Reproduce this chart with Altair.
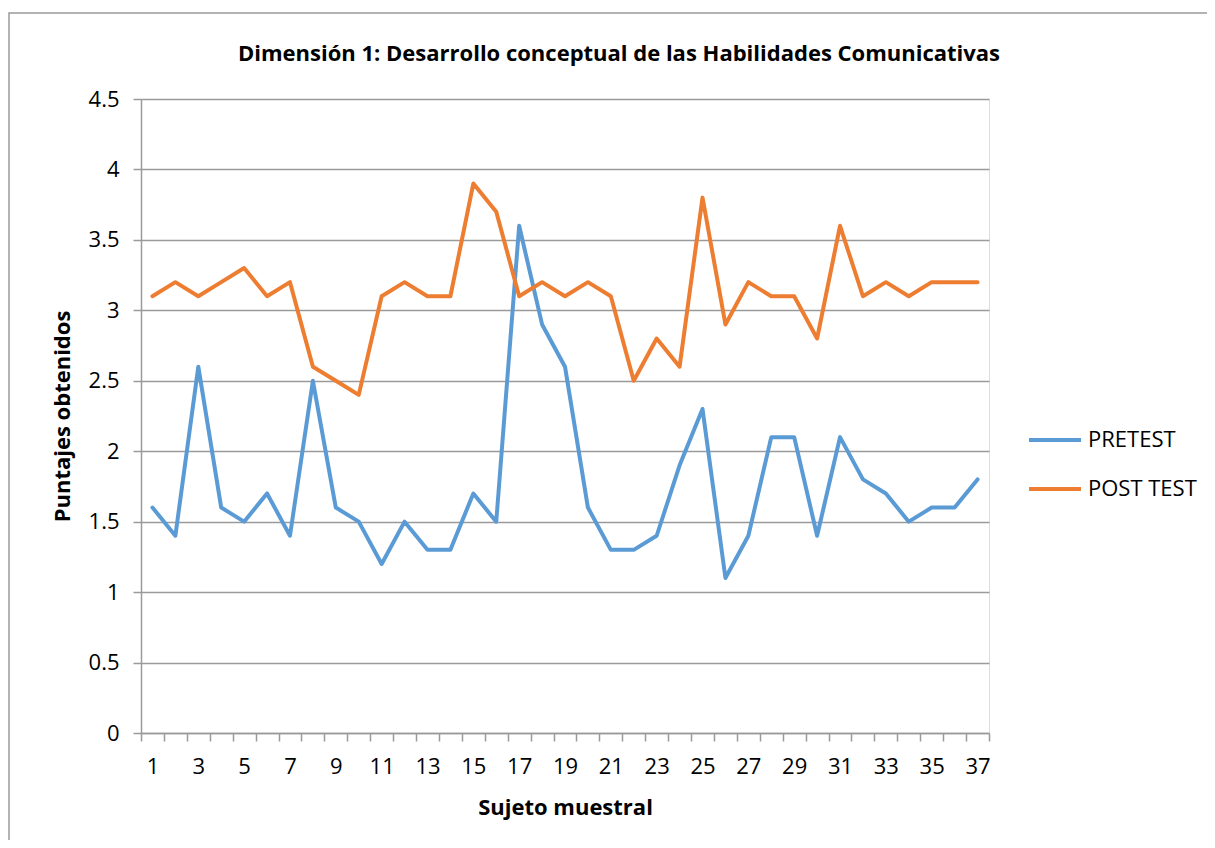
import altair as alt
import pandas as pd

subjects = list(range(1, 38))
pretest = [1.6, 1.4, 2.6, 1.6, 1.5, 1.7, 1.4, 2.5, 1.6, 1.5, 1.2, 1.5, 1.3, 1.3, 1.7, 1.5,
           3.6, 2.9, 2.6, 1.6, 1.3, 1.3, 1.4, 1.9, 2.3, 1.1, 1.4, 2.1, 2.1, 1.4, 2.1, 1.8,
           1.7, 1.5, 1.6, 1.6, 1.8]
posttest = [3.1, 3.2, 3.1, 3.2, 3.3, 3.1, 3.2, 2.6, 2.5, 2.4, 3.1, 3.2, 3.1, 3.1, 3.9, 3.7,
            3.1, 3.2, 3.1, 3.2, 3.1, 2.5, 2.8, 2.6, 3.8, 2.9, 3.2, 3.1, 3.1, 2.8, 3.6, 3.1,
            3.2, 3.1, 3.2, 3.2, 3.2]
series_names = ["PRETEST", "POST TEST"]
series_colors = ["#5B9BD5", "#ED7D31"]
y_ticks = [0, 0.5, 1, 1.5, 2, 2.5, 3, 3.5, 4, 4.5]
chart_title = "Dimensión 1: Desarrollo conceptual de las Habilidades Comunicativas"

rows = []
for name, vals in zip(series_names, [pretest, posttest]):
    for s, v in zip(subjects, vals):
        rows.append({"Sujeto": s, "Puntaje": v, "Serie": name})
df = pd.DataFrame(rows)

W, H = 848, 634
n = len(subjects)
band = W / n
FONT = "Open Sans"
GRID = "#9a9a9a"

x_bounds = [i + 0.5 for i in range(0, n + 1)]

lines = alt.Chart(df).mark_line(strokeWidth=4, strokeJoin="round", strokeCap="round").encode(
    x=alt.X("Sujeto:Q",
            scale=alt.Scale(domain=[0.5, n + 0.5], nice=False, zero=False),
            axis=alt.Axis(values=x_bounds, grid=False, tickSize=8, tickColor=GRID, tickWidth=1.5,
                          domainColor=GRID, domainWidth=1.5,
                          labelExpr="(datum.value + 0.5) % 2 == 1 ? format(datum.value + 0.5, 'd') : ''",
                          labelOffset=band / 2, labelOverlap=False, labelFlush=False,
                          labelFont=FONT, labelFontSize=22, labelColor="#000", labelPadding=15,
                          title="Sujeto muestral", titleFont=FONT, titleFontSize=22,
                          titleFontWeight="bold", titleColor="#000", titlePadding=20)),
    y=alt.Y("Puntaje:Q",
            scale=alt.Scale(domain=[0, 4.5], nice=False),
            axis=alt.Axis(values=y_ticks, format="~g", grid=True, gridColor=GRID, gridWidth=1.5,
                          tickSize=8, tickColor=GRID, tickWidth=1.5,
                          domainColor=GRID, domainWidth=1.5,
                          labelFont=FONT, labelFontSize=22, labelColor="#000", labelPadding=14,
                          title="Puntajes obtenidos", titleFont=FONT, titleFontSize=22,
                          titleFontWeight="bold", titleColor="#000", titlePadding=14)),
    color=alt.Color("Serie:N",
                    scale=alt.Scale(domain=series_names, range=series_colors),
                    sort=series_names,
                    legend=alt.Legend(title=None, orient="none", legendX=886, legendY=313,
                                      symbolType="stroke", symbolStrokeWidth=4, symbolSize=2704,
                                      labelFont=FONT, labelFontSize=22, labelColor="#000",
                                      labelOffset=5, rowPadding=10)),
)

border = alt.Chart(pd.DataFrame({"k": [0]})).mark_rect(
    fillOpacity=0, stroke="#9a9a9a", strokeWidth=1.5
).encode(
    x=alt.value(9 - 141), x2=alt.value(1230 - 141),
    y=alt.value(13 - 99), y2=alt.value(870 - 99),
)

title_layer = alt.Chart(pd.DataFrame({"t": [chart_title]})).mark_text(
    font=FONT, fontSize=22, fontWeight="bold", color="#000", align="center", baseline="middle"
).encode(text="t:N", x=alt.value(619 - 141), y=alt.value(54 - 99))

chart = alt.layer(border, lines, title_layer).properties(
    width=W, height=H,
    padding={"left": 133, "top": 91, "right": 218, "bottom": 107},
    autosize=alt.AutoSizeParams(type="none"),
).configure_view(stroke=None).configure(background="white")

chart.save("out.html", embed_options={"renderer": "svg", "actions": False})
